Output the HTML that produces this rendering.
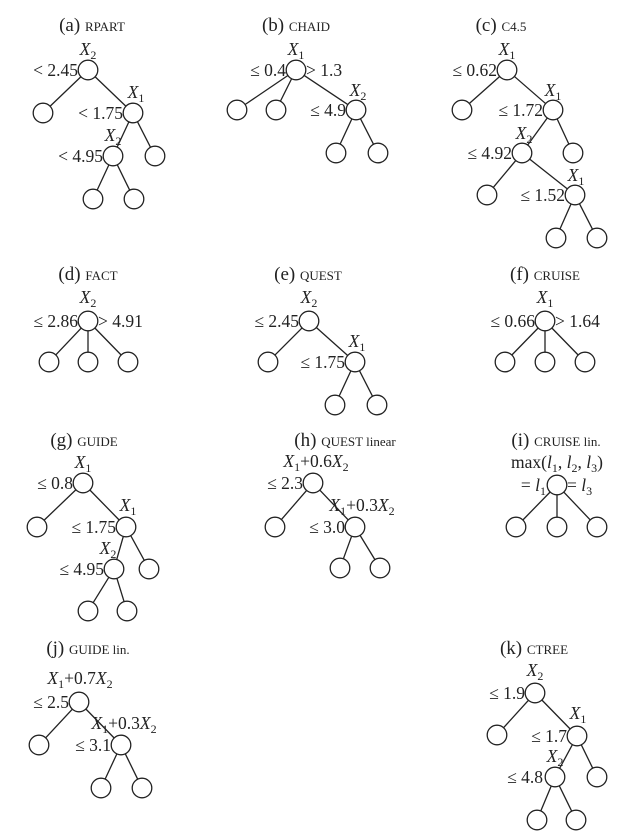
<!DOCTYPE html>
<html><head><meta charset="utf-8">
<style>
html,body{margin:0;padding:0;background:#fff;}
svg{display:block;font-family:"Liberation Serif",serif;}
.l{font-size:17.5px;fill:#222;}
.t{font-size:19px;fill:#222;}
.sc{font-size:13px;}
.s{font-size:12px;}
</style></head>
<body>
<svg id="fig" width="624" height="840" viewBox="0 0 624 840">
<g id="edges"></g>
<g id="nodes"></g>
<g>
<text class="t" x="92" y="31" text-anchor="middle">(a) <tspan class="sc">RPART</tspan></text>
<text class="t" x="296" y="31" text-anchor="middle">(b) <tspan class="sc">CHAID</tspan></text>
<text class="t" x="501" y="31" text-anchor="middle">(c) <tspan class="sc">C4.5</tspan></text>
<text class="t" x="88" y="280" text-anchor="middle">(d) <tspan class="sc">FACT</tspan></text>
<text class="t" x="308" y="280" text-anchor="middle">(e) <tspan class="sc">QUEST</tspan></text>
<text class="t" x="545" y="280" text-anchor="middle">(f) <tspan class="sc">CRUISE</tspan></text>
<text class="t" x="84" y="446" text-anchor="middle">(g) <tspan class="sc">GUIDE</tspan></text>
<text class="t" x="345" y="446" text-anchor="middle">(h) <tspan class="sc">QUEST linear</tspan></text>
<text class="t" x="556" y="446" text-anchor="middle">(i) <tspan class="sc">CRUISE lin.</tspan></text>
<text class="t" x="88" y="654" text-anchor="middle">(j) <tspan class="sc">GUIDE lin.</tspan></text>
<text class="t" x="534" y="654" text-anchor="middle">(k) <tspan class="sc">CTREE</tspan></text>

<text class="l" x="88" y="55" text-anchor="middle" font-style="italic">X<tspan class="s" dy="4" font-style="normal">2</tspan></text>
<text class="l" x="78" y="76" text-anchor="end">&lt; 2.45</text>
<text class="l" x="136" y="98" text-anchor="middle" font-style="italic">X<tspan class="s" dy="4" font-style="normal">1</tspan></text>
<text class="l" x="123" y="119" text-anchor="end">&lt; 1.75</text>
<text class="l" x="113" y="141" text-anchor="middle" font-style="italic">X<tspan class="s" dy="4" font-style="normal">2</tspan></text>
<text class="l" x="103" y="162" text-anchor="end">&lt; 4.95</text>

<text class="l" x="296" y="55" text-anchor="middle" font-style="italic">X<tspan class="s" dy="4" font-style="normal">1</tspan></text>
<text class="l" x="286" y="76" text-anchor="end">≤ 0.4</text>
<text class="l" x="306" y="76" text-anchor="start">&gt; 1.3</text>
<text class="l" x="358" y="96" text-anchor="middle" font-style="italic">X<tspan class="s" dy="4" font-style="normal">2</tspan></text>
<text class="l" x="346" y="116" text-anchor="end">≤ 4.9</text>

<text class="l" x="507" y="55" text-anchor="middle" font-style="italic">X<tspan class="s" dy="4" font-style="normal">1</tspan></text>
<text class="l" x="497" y="76" text-anchor="end">≤ 0.62</text>
<text class="l" x="553" y="96" text-anchor="middle" font-style="italic">X<tspan class="s" dy="4" font-style="normal">1</tspan></text>
<text class="l" x="543" y="116" text-anchor="end">≤ 1.72</text>
<text class="l" x="524" y="139" text-anchor="middle" font-style="italic">X<tspan class="s" dy="4" font-style="normal">2</tspan></text>
<text class="l" x="512" y="159" text-anchor="end">≤ 4.92</text>
<text class="l" x="576" y="181" text-anchor="middle" font-style="italic">X<tspan class="s" dy="4" font-style="normal">1</tspan></text>
<text class="l" x="565" y="201" text-anchor="end">≤ 1.52</text>

<text class="l" x="88" y="303" text-anchor="middle" font-style="italic">X<tspan class="s" dy="4" font-style="normal">2</tspan></text>
<text class="l" x="78" y="327" text-anchor="end">≤ 2.86</text>
<text class="l" x="98" y="327" text-anchor="start">&gt; 4.91</text>

<text class="l" x="309" y="303" text-anchor="middle" font-style="italic">X<tspan class="s" dy="4" font-style="normal">2</tspan></text>
<text class="l" x="299" y="327" text-anchor="end">≤ 2.45</text>
<text class="l" x="357" y="347" text-anchor="middle" font-style="italic">X<tspan class="s" dy="4" font-style="normal">1</tspan></text>
<text class="l" x="345" y="368" text-anchor="end">≤ 1.75</text>

<text class="l" x="545" y="303" text-anchor="middle" font-style="italic">X<tspan class="s" dy="4" font-style="normal">1</tspan></text>
<text class="l" x="535" y="327" text-anchor="end">≤ 0.66</text>
<text class="l" x="555" y="327" text-anchor="start">&gt; 1.64</text>

<text class="l" x="83" y="468" text-anchor="middle" font-style="italic">X<tspan class="s" dy="4" font-style="normal">1</tspan></text>
<text class="l" x="73" y="489" text-anchor="end">≤ 0.8</text>
<text class="l" x="128" y="511" text-anchor="middle" font-style="italic">X<tspan class="s" dy="4" font-style="normal">1</tspan></text>
<text class="l" x="116" y="533" text-anchor="end">≤ 1.75</text>
<text class="l" x="108" y="554" text-anchor="middle" font-style="italic">X<tspan class="s" dy="4" font-style="normal">2</tspan></text>
<text class="l" x="104" y="575" text-anchor="end">≤ 4.95</text>

<text class="l" x="316" y="467" text-anchor="middle"><tspan font-style="italic">X</tspan><tspan class="s" dy="4">1</tspan><tspan dy="-4">+0.6</tspan><tspan font-style="italic">X</tspan><tspan class="s" dy="4">2</tspan></text>
<text class="l" x="303" y="489" text-anchor="end">≤ 2.3</text>
<text class="l" x="362" y="511" text-anchor="middle"><tspan font-style="italic">X</tspan><tspan class="s" dy="4">1</tspan><tspan dy="-4">+0.3</tspan><tspan font-style="italic">X</tspan><tspan class="s" dy="4">2</tspan></text>
<text class="l" x="345" y="533" text-anchor="end">≤ 3.0</text>

<text class="l" x="557" y="468" text-anchor="middle">max(<tspan font-style="italic">l</tspan><tspan class="s" dy="4">1</tspan><tspan dy="-4">, </tspan><tspan font-style="italic">l</tspan><tspan class="s" dy="4">2</tspan><tspan dy="-4">, </tspan><tspan font-style="italic">l</tspan><tspan class="s" dy="4">3</tspan><tspan dy="-4">)</tspan></text>
<text class="l" x="546" y="491" text-anchor="end">= <tspan font-style="italic">l</tspan><tspan class="s" dy="4">1</tspan></text>
<text class="l" x="567" y="491" text-anchor="start">= <tspan font-style="italic">l</tspan><tspan class="s" dy="4">3</tspan></text>

<text class="l" x="80" y="684" text-anchor="middle"><tspan font-style="italic">X</tspan><tspan class="s" dy="4">1</tspan><tspan dy="-4">+0.7</tspan><tspan font-style="italic">X</tspan><tspan class="s" dy="4">2</tspan></text>
<text class="l" x="69" y="708" text-anchor="end">≤ 2.5</text>
<text class="l" x="124" y="729" text-anchor="middle"><tspan font-style="italic">X</tspan><tspan class="s" dy="4">1</tspan><tspan dy="-4">+0.3</tspan><tspan font-style="italic">X</tspan><tspan class="s" dy="4">2</tspan></text>
<text class="l" x="111" y="751" text-anchor="end">≤ 3.1</text>

<text class="l" x="535" y="676" text-anchor="middle" font-style="italic">X<tspan class="s" dy="4" font-style="normal">2</tspan></text>
<text class="l" x="525" y="699" text-anchor="end">≤ 1.9</text>
<text class="l" x="578" y="719" text-anchor="middle" font-style="italic">X<tspan class="s" dy="4" font-style="normal">1</tspan></text>
<text class="l" x="567" y="742" text-anchor="end">≤ 1.7</text>
<text class="l" x="555" y="762" text-anchor="middle" font-style="italic">X<tspan class="s" dy="4" font-style="normal">2</tspan></text>
<text class="l" x="543" y="783" text-anchor="end">≤ 4.8</text>
</g>
</svg>
<script>
const treeIds = ["a","b","c","d","e","f","g","h","i","j","k"];
const nodeX = {
 a:[88,43,133,113,155,93,134],
 b:[296,237,276,356,336,378],
 c:[507,462,553,522,573,487,575,556,597],
 d:[88,49,88,128],
 e:[309,268,355,335,377],
 f:[545,505,545,585],
 g:[83,37,126,114,149,88,127],
 h:[313,275,355,340,380],
 i:[557,516,557,597],
 j:[79,39,121,101,142],
 k:[535,497,577,555,597,537,576]
};
const nodeY = {
 a:[70,113,113,156,156,199,199],
 b:[70,110,110,110,153,153],
 c:[70,110,110,153,153,195,195,238,238],
 d:[321,362,362,362],
 e:[321,362,362,405,405],
 f:[321,362,362,362],
 g:[483,527,527,569,569,611,611],
 h:[483,527,527,568,568],
 i:[485,527,527,527],
 j:[702,745,745,788,788],
 k:[693,735,736,777,777,820,820]
};
const nodeParent = {
 a:[-1,0,0,2,2,3,3],
 b:[-1,0,0,0,3,3],
 c:[-1,0,0,2,2,3,3,6,6],
 d:[-1,0,0,0],
 e:[-1,0,0,2,2],
 f:[-1,0,0,0],
 g:[-1,0,0,2,2,3,3],
 h:[-1,0,0,2,2],
 i:[-1,0,0,0],
 j:[-1,0,0,2,2],
 k:[-1,0,0,2,2,3,3]
};
const NS="http://www.w3.org/2000/svg";
const R=9.8;
const eg=document.getElementById("edges"), ng=document.getElementById("nodes");
treeIds.forEach(function(t){
  const xs=nodeX[t], ys=nodeY[t], ps=nodeParent[t];
  for(let i=0;i<xs.length;i++){
    if(ps[i]>=0){
      const p=ps[i];
      const dx=xs[i]-xs[p], dy=ys[i]-ys[p], d=Math.hypot(dx,dy);
      const ln=document.createElementNS(NS,"line");
      ln.setAttribute("x1",xs[p]+dx/d*R); ln.setAttribute("y1",ys[p]+dy/d*R);
      ln.setAttribute("x2",xs[i]-dx/d*R); ln.setAttribute("y2",ys[i]-dy/d*R);
      ln.setAttribute("stroke","#222"); ln.setAttribute("stroke-width","1.3");
      
      
      eg.appendChild(ln);
    }
    const c=document.createElementNS(NS,"circle");
    c.setAttribute("cx",xs[i]); c.setAttribute("cy",ys[i]); c.setAttribute("r",R);
    c.setAttribute("fill","#fff"); c.setAttribute("stroke","#222"); c.setAttribute("stroke-width","1.3");
    
    
    ng.appendChild(c);
  }
});
</script>
</body></html>
